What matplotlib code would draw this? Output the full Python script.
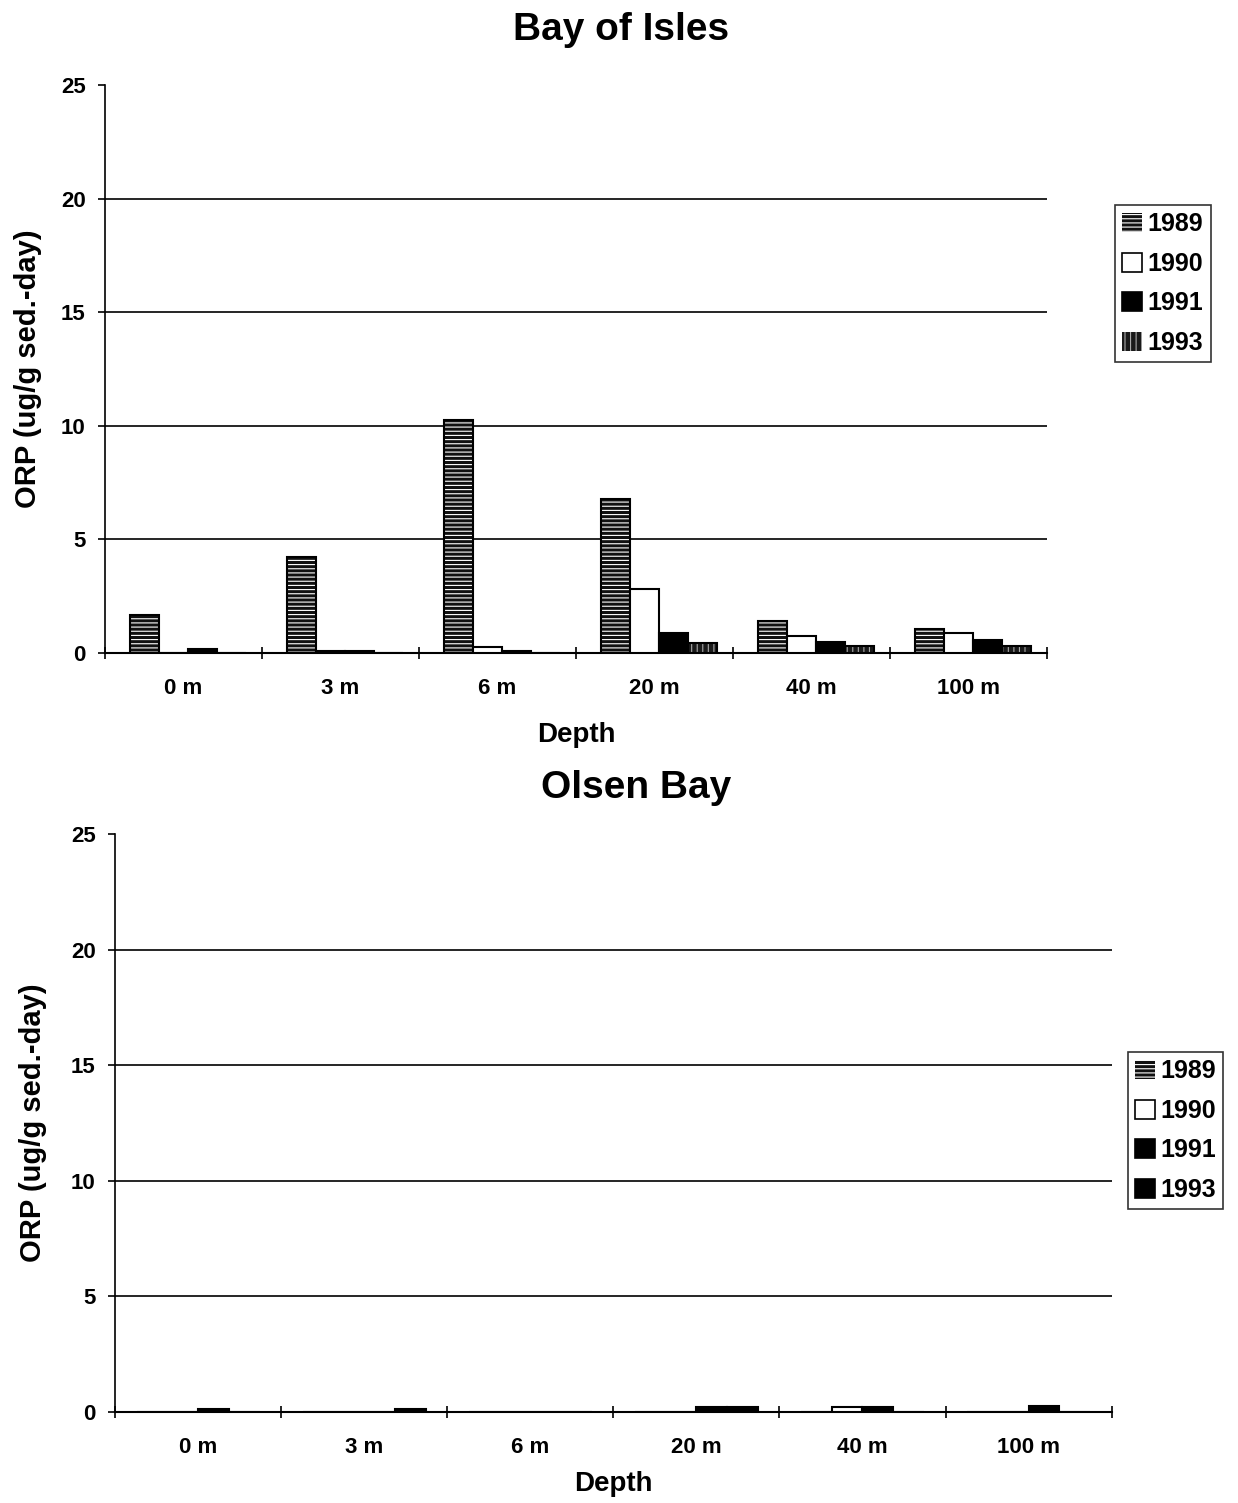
import numpy as np
import matplotlib.pyplot as plt

plt.rcParams['font.family'] = ['Liberation Sans', 'DejaVu Sans']
plt.rcParams['font.weight'] = 'bold'
plt.rcParams['hatch.linewidth'] = 0.8

depths = ["0 m", "3 m", "6 m", "20 m", "40 m", "100 m"]
years = ["1989", "1990", "1991", "1993"]

# Bay of Isles, ORP by year
isles_1989 = [1.67, 4.23, 10.26, 6.8, 1.4, 1.05]
isles_1990 = [0.0, 0.1, 0.28, 2.8, 0.75, 0.87]
isles_1991 = [0.2, 0.1, 0.1, 0.87, 0.5, 0.57]
isles_1993 = [0.0, 0.0, 0.0, 0.43, 0.33, 0.3]

# Olsen Bay, ORP by year
olsen_1989 = [0.0, 0.0, 0.0, 0.0, 0.0, 0.0]
olsen_1990 = [0.0, 0.0, 0.0, 0.0, 0.2, 0.0]
olsen_1991 = [0.15, 0.0, 0.0, 0.2, 0.2, 0.25]
olsen_1993 = [0.0, 0.15, 0.0, 0.2, 0.0, 0.0]


def styles(last_hatched):
    s = [dict(fc="#111111", hatch="----", hc="white"),
         dict(fc="white", hatch=None, hc=None),
         dict(fc="black", hatch=None, hc=None)]
    if last_hatched:
        s.append(dict(fc="#1a1a1a", hatch="|||", hc="#aaaaaa"))
    else:
        s.append(dict(fc="black", hatch=None, hc=None))
    return s


def draw_panel(ax, series, title, last_hatched, shift, legend_pos,
               ylab_x, xlab_y, title_x, title_pad):
    x = np.arange(len(depths))
    w = 0.185
    handles = []
    for i, (vals, st) in enumerate(zip(series, styles(last_hatched))):
        pos = x + (i - 1.5) * w + shift
        if st["hatch"]:
            ax.bar(pos, vals, w, color=st["fc"], hatch=st["hatch"],
                   edgecolor=st["hc"], linewidth=0, zorder=3)
        ax.bar(pos, vals, w, facecolor=st["fc"] if not st["hatch"] else "none",
               edgecolor="black", linewidth=1.5, zorder=4)
        h = plt.Rectangle((0, 0), 1, 1, facecolor=st["fc"], hatch=st["hatch"],
                          edgecolor=st["hc"] or "black",
                          linewidth=0 if st["hatch"] else 1.2)
        handles.append(h)

    ax.set_xlim(-0.5, len(depths) - 0.5)
    ax.set_ylim(0, 25)
    ax.set_yticks([0, 5, 10, 15, 20, 25])
    for yv in [5, 10, 15, 20]:
        ax.axhline(yv, color="black", linewidth=1.2, zorder=1)
    ax.set_xticks(x)
    ax.set_xticklabels(depths, fontsize=16, fontweight="bold")
    ax.set_xticks(np.arange(-0.5, len(depths)), minor=True)
    ax.tick_params(axis="x", which="major", length=0, pad=18)
    ax.tick_params(axis="x", which="minor", length=8, direction="inout", width=1.2)
    ax.tick_params(axis="y", labelsize=16, length=5, width=1.2, pad=9)
    for lab in ax.get_yticklabels():
        lab.set_fontweight("bold")
    ax.spines["top"].set_visible(False)
    ax.spines["right"].set_visible(False)
    ax.spines["left"].set_linewidth(1.2)
    ax.spines["bottom"].set_linewidth(1.5)

    ax.set_ylabel("ORP (ug/g sed.-day)", fontsize=21, fontweight="bold")
    ax.yaxis.set_label_coords(ylab_x, 0.5)
    ax.yaxis.label.set_va("center")
    ax.set_xlabel("Depth", fontsize=20, fontweight="bold")
    ax.xaxis.set_label_coords(0.5, xlab_y)
    ax.xaxis.label.set_va("center")
    ax.set_title(title, fontsize=28, fontweight="bold", x=title_x, pad=title_pad)

    leg = ax.legend(handles, years, loc="upper left", bbox_to_anchor=legend_pos,
                    borderaxespad=0, frameon=True, fancybox=False,
                    edgecolor="black", prop=dict(size=18, weight="bold"),
                    handlelength=0.8, handleheight=0.8, handletextpad=0.2,
                    labelspacing=0.62, borderpad=0.3)
    leg.get_frame().set_linewidth(1.2)


fig = plt.figure(figsize=(12.38, 15.03), dpi=100)
ax1 = fig.add_axes([0.0848, 0.5655, 0.761, 0.378])
ax2 = fig.add_axes([0.0929, 0.0605, 0.805, 0.3846])

draw_panel(ax1, [isles_1989, isles_1990, isles_1991, isles_1993],
           "Bay of Isles", True, 0.03, (1.072, 0.789),
           -0.0817, -0.144, (621 - 105) / 942, 32)
draw_panel(ax2, [olsen_1989, olsen_1990, olsen_1991, olsen_1993],
           "Olsen Bay", False, 0.0, (1.016, 0.623),
           -0.0822, -0.1246, (636 - 115) / 997, 26)

fig.savefig("out.png", dpi=100)
